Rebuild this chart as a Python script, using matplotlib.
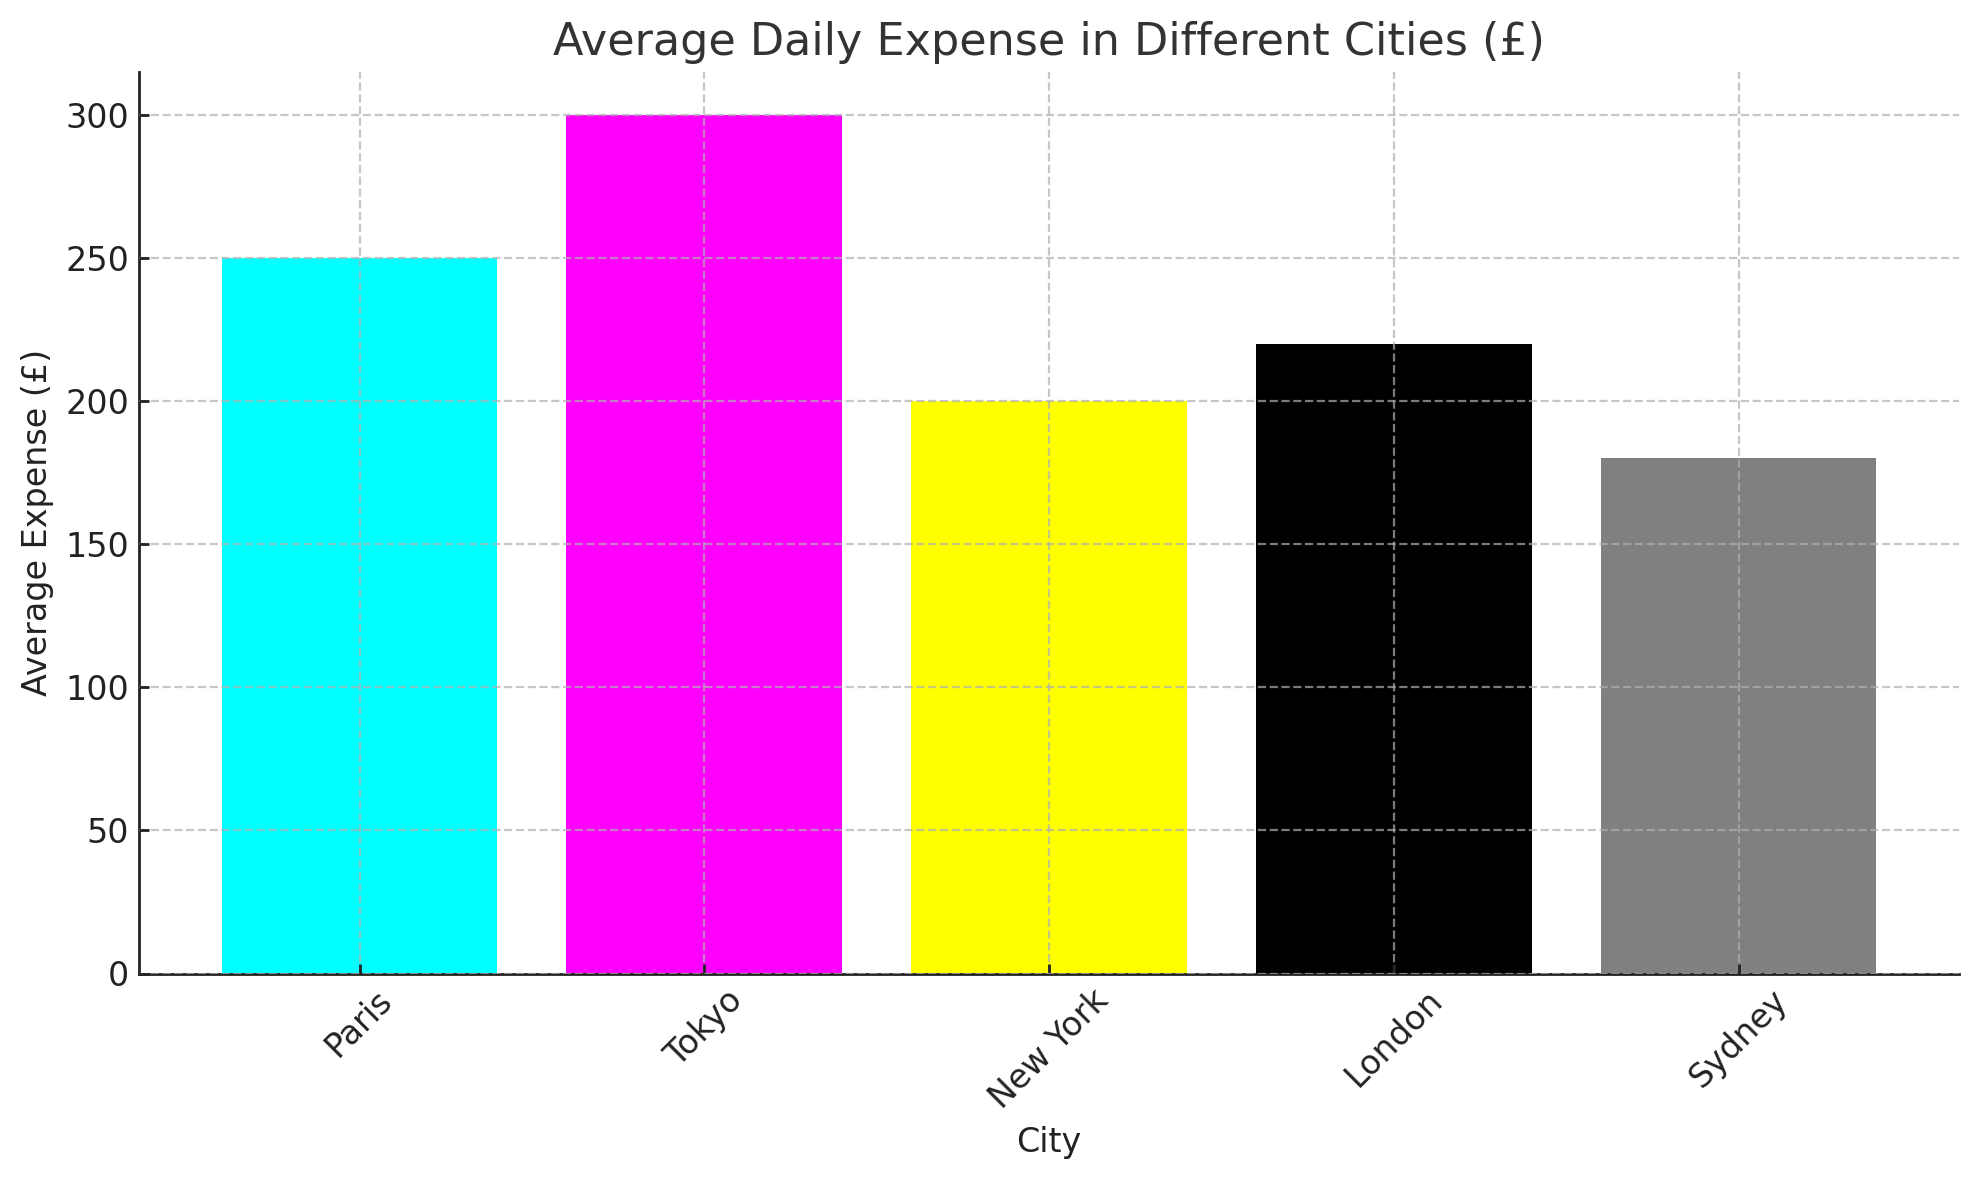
import matplotlib
matplotlib.use("Agg")
import matplotlib.pyplot as plt

cities = ["Paris", "Tokyo", "New York", "London", "Sydney"]
expenses = [250, 300, 200, 220, 180]
colors = ["cyan", "magenta", "yellow", "black", "gray"]

fig = plt.figure(figsize=(9.895, 5.9), dpi=200)
ax = fig.add_axes([0.0702, 0.175, 0.9198, 0.764])
ax.bar(cities, expenses, color=colors)
ax.set_title("Average Daily Expense in Different Cities (£)", fontsize=16, color="#333333")
ax.set_xlabel("City", fontsize=12, color="#222222")
ax.set_ylabel("Average Expense (£)", fontsize=12, color="#222222")
ax.tick_params(axis="both", labelsize=12, colors="#222222", direction="in",
               length=3.5, width=1.0)
plt.setp(ax.get_xticklabels(), rotation=45)
ax.grid(True, linestyle="--", alpha=0.7)
ax.set_axisbelow(False)
for s in ["top", "right"]:
    ax.spines[s].set_visible(False)
for s in ["left", "bottom"]:
    ax.spines[s].set_color("#222222")
    ax.spines[s].set_linewidth(1.0)

fig.savefig("out.png", dpi=200)
